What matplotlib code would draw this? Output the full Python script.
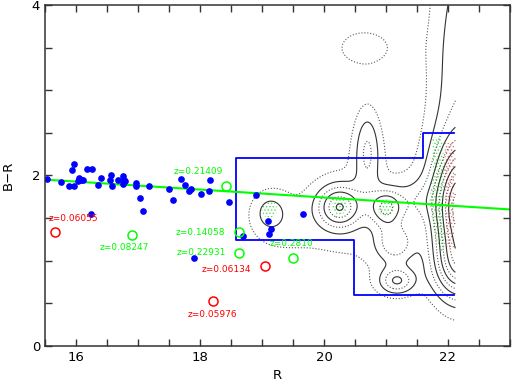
import matplotlib
matplotlib.use("Agg")
import matplotlib.pyplot as plt
from matplotlib.patches import Polygon, Ellipse
import numpy as np

# bright galaxies (filled blue points)
gal_R = [15.53, 15.76, 15.88, 15.97, 15.96, 15.94, 16.03, 16.04, 16.08, 16.11,
         16.17, 16.25, 16.35, 16.41, 16.54, 16.56, 16.58, 16.67, 16.76, 16.77,
         16.79, 16.96, 16.97, 17.18, 17.03, 17.08, 16.24, 17.50, 17.56, 17.70,
         17.75, 17.82, 17.86, 18.02, 18.15, 18.16, 18.47, 18.90, 17.91, 18.69,
         19.10, 19.14, 19.11, 19.66, 16.76]
gal_BR = [1.96, 1.92, 1.87, 1.87, 2.13, 2.06, 1.93, 1.97, 1.95, 1.95,
          2.08, 2.07, 1.89, 1.97, 1.94, 2.01, 1.88, 1.95, 1.90, 1.95,
          1.93, 1.91, 1.87, 1.88, 1.74, 1.58, 1.55, 1.84, 1.71, 1.96,
          1.89, 1.82, 1.84, 1.78, 1.82, 1.94, 1.69, 1.77, 1.03, 1.29,
          1.47, 1.37, 1.31, 1.55, 1.99]

# galaxies with redshifts (open circles) and their labels
z_R = [15.66, 16.90, 18.63, 18.63, 18.21, 19.05, 19.50, 18.42]
z_BR = [1.33, 1.30, 1.34, 1.09, 0.53, 0.94, 1.03, 1.88]
z_text = ["z=0.06055", "z=0.08247", "z=0.14058", "z=0.22931", "z=0.05976",
          "z=0.06134", "z=0.2810", "z=0.21409"]
z_col = ["red", "lime", "lime", "lime", "red", "red", "lime", "lime"]
lab_R = [15.55, 16.78, 18.40, 18.42, 18.20, 18.43, 19.12, 17.98]
lab_BR = [1.49, 1.15, 1.33, 1.09, 0.37, 0.89, 1.20, 2.05]
lab_ha = ["left", "center", "right", "right", "center", "center", "left", "center"]

# colour-magnitude relation fit
fit_R = [15.5, 23.0]
fit_BR = [1.95, 1.60]

# selection box
box_R = [22.10, 21.59, 21.59, 18.58, 18.58, 20.49, 20.49, 22.10]
box_BR = [2.50, 2.50, 2.20, 2.20, 1.24, 1.24, 0.60, 0.60]

# faint galaxy density: gaussian components (R0, BR0, sigR, sigBR, amp)
comp_R0 = [22.20, 22.20, 22.25, 20.65, 20.70, 20.25, 21.00, 21.15, 21.18,
           19.12, 19.25, 20.60, 21.45]
comp_BR0 = [1.60, 0.90, 3.20, 3.50, 2.30, 1.63, 1.62, 1.20, 0.76,
            1.57, 1.40, 1.50, 1.70]
comp_sR = [0.30, 0.30, 0.40, 0.45, 0.15, 0.24, 0.18, 0.22, 0.20,
           0.20, 0.50, 0.85, 0.25]
comp_sBR = [0.50, 0.25, 1.50, 0.22, 0.35, 0.17, 0.15, 0.16, 0.11,
            0.17, 0.35, 0.70, 0.18]
comp_amp = [10.0, 4.0, 2.8, 1.35, 2.6, 5.0, 4.0, 3.0, 3.6,
            1.6, 0.8, 1.15, 1.5]
levels = [1, 2, 3, 4, 5, 6, 7, 8, 9, 10, 11, 12, 13]

# stippled faint-galaxy areas
green_R = [21.74, 21.90, 21.95, 21.92, 21.96, 21.90, 21.78, 21.70, 21.76]
green_BR = [2.45, 2.45, 2.10, 1.60, 1.15, 1.10, 1.30, 1.70, 2.10]
red_R = [21.95, 22.10, 22.10, 21.98, 21.96, 21.94]
red_BR = [2.38, 2.38, 1.15, 1.15, 1.60, 2.10]
clump_R = [19.12, 20.25, 21.00]
clump_BR = [1.60, 1.64, 1.62]

fig = plt.figure(figsize=(5.12, 3.85), dpi=100)
ax = fig.add_axes([0.088, 0.102, 0.908, 0.885])

gx = np.linspace(18.2, 22.12, 300)
gy = np.linspace(0.0, 4.2, 300)
X, Y = np.meshgrid(gx, gy)
Z = np.zeros_like(X)
for r0, b0, sr, sb, a in zip(comp_R0, comp_BR0, comp_sR, comp_sBR, comp_amp):
    Z += a * np.exp(-0.5 * ((X - r0) / sr) ** 2 - 0.5 * ((Y - b0) / sb) ** 2)

ax.contour(X, Y, Z, levels=levels[0::2], colors="#555555", linewidths=0.8,
           linestyles=":")
ax.contour(X, Y, Z, levels=levels[1::2], colors="#333333", linewidths=0.8,
           linestyles="-")

plt.rcParams["hatch.linewidth"] = 0.6
ax.add_patch(Polygon(list(zip(green_R, green_BR)), closed=True, facecolor="none",
                     edgecolor="#55dd55", hatch=".....", linewidth=0))
ax.add_patch(Polygon(list(zip(red_R, red_BR)), closed=True, facecolor="none",
                     edgecolor="#ee7777", hatch=".....", linewidth=0))
for r, b in zip(clump_R, clump_BR):
    ax.add_patch(Ellipse((r, b), 0.25, 0.2, facecolor="none", edgecolor="#55dd55",
                         hatch=".....", linewidth=0))

ax.plot(box_R, box_BR, color="blue", lw=1.3)
ax.plot(fit_R, fit_BR, color="lime", lw=1.5)
ax.plot(gal_R, gal_BR, "o", color="blue", ms=3.8, mec="blue")

for i in range(len(z_R)):
    ax.plot(z_R[i], z_BR[i], "o", mfc="none", mec=z_col[i], ms=6.5, mew=1.1)
    ax.text(lab_R[i], lab_BR[i], z_text[i], color=z_col[i], fontsize=6.5,
            ha=lab_ha[i], va="center")

ax.set_xlim(15.5, 23)
ax.set_ylim(0, 4)
ax.set_xticks([16, 18, 20, 22])
ax.set_yticks([0, 2, 4])
ax.set_xticks(np.arange(15.5, 23.01, 0.5), minor=True)
ax.set_yticks(np.arange(0, 4.01, 0.5), minor=True)
ax.tick_params(which="both", direction="in", top=True, right=True, length=5,
               width=1, color="#333333", labelsize=9.5)
for s in ax.spines.values():
    s.set_linewidth(1.1)
    s.set_color("#333333")
ax.set_xlabel("R", fontsize=9.5)
ax.set_ylabel("B\u2212R", fontsize=9.5, labelpad=12)

fig.savefig("out.png", dpi=100)
